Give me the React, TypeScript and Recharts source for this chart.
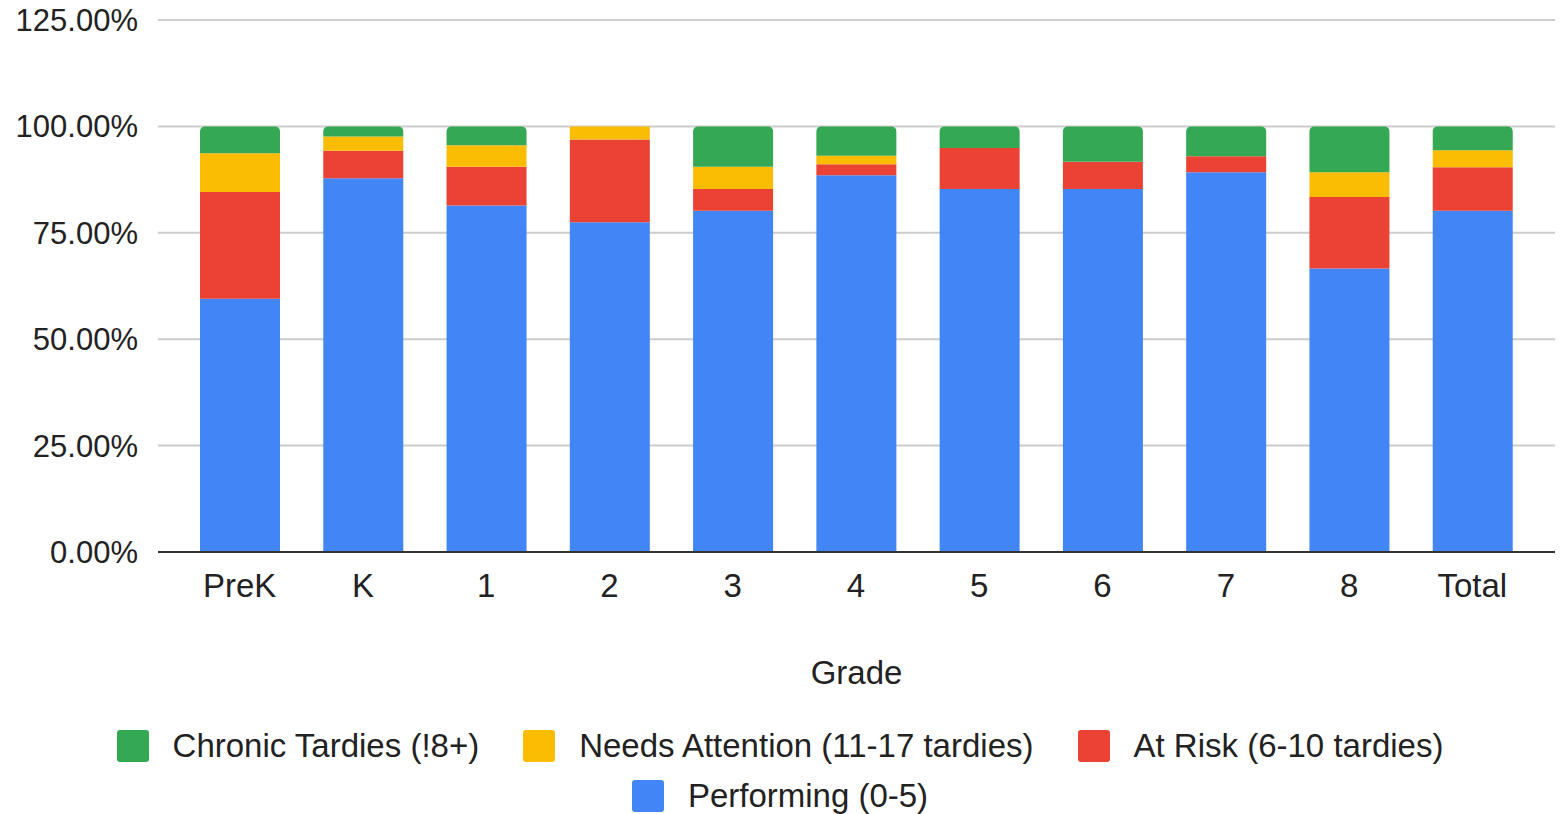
import { BarChart, Bar, XAxis, YAxis, CartesianGrid, Legend } from 'recharts'

const grades = ['PreK', 'K', '1', '2', '3', '4', '5', '6', '7', '8', 'Total']
const performing = [59.5, 87.8, 81.4, 77.5, 80.2, 88.5, 85.3, 85.3, 89.2, 66.6, 80.2]
const atRisk = [25.1, 6.5, 9.1, 19.4, 5.1, 2.6, 9.6, 6.4, 3.8, 16.8, 10.2]
const needsAttention = [9.1, 3.3, 5.1, 3.1, 5.2, 2.0, 0, 0, 0, 5.8, 4.0]
const chronic = [6.3, 2.4, 4.4, 0, 9.5, 6.9, 5.1, 8.3, 7.0, 10.8, 5.6]
const yTicks = [0, 25, 50, 75, 100, 125]

const series = [
    { key: 'performing', name: 'Performing (0-5)', color: '#4285F4' },
    { key: 'atRisk', name: 'At Risk (6-10 tardies)', color: '#EA4335' },
    { key: 'needsAttention', name: 'Needs Attention (11-17 tardies)', color: '#FBBC04' },
    { key: 'chronic', name: 'Chronic Tardies (!8+)', color: '#34A853' },
]

const data = grades.map((grade, i) => ({
    grade,
    performing: performing[i],
    atRisk: atRisk[i],
    needsAttention: needsAttention[i],
    chronic: chronic[i],
}))

const FONT = '"Liberation Sans", Arial, sans-serif'

const CustomLegend = () => {
    const items = [...series].reverse()
    return (
        <div style={{ width: 1560, height: 110, boxSizing: 'border-box', paddingTop: 26, display: 'flex', justifyContent: 'center' }}>
            <div style={{ maxWidth: 1440, height: 84, display: 'flex', flexWrap: 'wrap', justifyContent: 'center', alignContent: 'flex-start', rowGap: 18, columnGap: 44 }}>
                {items.map((s) => (
                    <div key={s.key} style={{ display: 'flex', alignItems: 'center', height: 32 }}>
                        <div style={{ width: 32, height: 32, borderRadius: 3, backgroundColor: s.color, marginRight: 24 }} />
                        <span style={{ fontFamily: FONT, fontSize: 33, color: '#222', whiteSpace: 'nowrap' }}>{s.name}</span>
                    </div>
                ))}
            </div>
        </div>
    )
}

const App = () => {
    return (
        <div style={{ position: 'absolute', left: 0, top: 0, background: '#fff' }}>
            <BarChart
                width={1560}
                height={814}
                data={data}
                margin={{ top: 20, right: 5, bottom: 0, left: 0 }}
                barSize={80}
                style={{ fontFamily: FONT }}
            >
                <CartesianGrid vertical={false} stroke="#cccccc" strokeWidth={2} />
                <XAxis
                    dataKey="grade"
                    height={152}
                    tickLine={false}
                    tickMargin={16}
                    axisLine={{ stroke: '#333', strokeWidth: 2 }}
                    padding={{ left: 20, right: 21 }}
                    tick={{ fill: '#222', fontSize: 33 }}
                    label={{ value: 'Grade', position: 'insideBottom', offset: 20, fill: '#222', fontSize: 33 }}
                />
                <YAxis
                    width={158}
                    domain={[0, 125]}
                    ticks={yTicks}
                    axisLine={false}
                    tickLine={false}
                    tickMargin={14}
                    tick={{ fill: '#222', fontSize: 31 }}
                    tickFormatter={(v) => `${v.toFixed(2)}%`}
                />
                <Legend
                    verticalAlign="bottom"
                    height={110}
                    content={<CustomLegend />}
                    wrapperStyle={{ left: 0, width: 1560, bottom: 0 }}
                />
                {series.map((s, i) => (
                    <Bar
                        key={s.key}
                        dataKey={s.key}
                        name={s.name}
                        stackId="a"
                        fill={s.color}
                        isAnimationActive={false}
                        radius={i === series.length - 1 ? [5, 5, 0, 0] : 0}
                    />
                ))}
            </BarChart>
        </div>
    )
}

export default App
